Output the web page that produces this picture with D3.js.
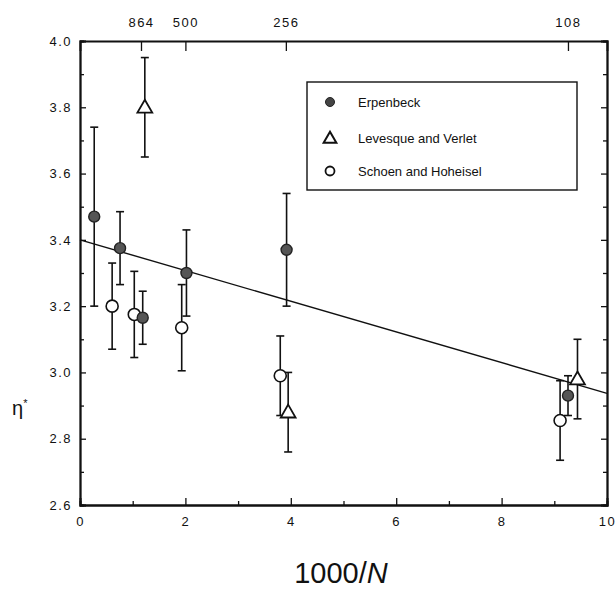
<!DOCTYPE html>
<html>
<head>
<meta charset="utf-8">
<script src="https://cdn.jsdelivr.net/npm/d3@7"></script>
<style>
  body { margin:0; background:#fff; }
  text { font-family: "Liberation Sans", Arial, sans-serif; fill:#111; }
</style>
</head>
<body>
<div id="chart-area"></div>
<script>
// data
var erpX   = [0.27, 0.76, 1.19, 2.02, 3.92, 9.26];
var erpY   = [3.47, 3.375, 3.165, 3.30, 3.37, 2.93];
var erpErr = [0.27, 0.11, 0.08, 0.13, 0.17, 0.06];

var levX   = [1.23, 3.95, 9.44];
var levY   = [3.80, 2.88, 2.98];
var levErr = [0.15, 0.12, 0.12];

var schX   = [0.61, 1.03, 1.93, 3.80, 9.11];
var schY   = [3.20, 3.175, 3.135, 2.99, 2.855];
var schErr = [0.13, 0.13, 0.13, 0.12, 0.12];

var fitX = [0, 10];
var fitY = [3.40, 2.937];

var xTicks = [0, 2, 4, 6, 8, 10];
var yTicks = [2.6, 2.8, 3.0, 3.2, 3.4, 3.6, 3.8, 4.0];
var topN = [864, 500, 256, 108];

var legendNames = ["Erpenbeck", "Levesque and Verlet", "Schoen and Hoheisel"];

var margin = { left:80, right:8, top:41, bottom:86 };
var W = 615, H = 591;
var width = W - margin.left - margin.right,
    height = H - margin.top - margin.bottom;

var svg = d3.select("#chart-area").append("svg")
    .attr("width", W).attr("height", H);
var g = svg.append("g")
    .attr("transform", "translate(" + margin.left + "," + margin.top + ")");

var xScale = d3.scaleLinear().domain([0, 10]).range([0, width]);
var yScale = d3.scaleLinear().domain([2.6, 4.0]).range([height, 0]);

function fmt1(d) { return d.toFixed(1); }

// bottom axis (ticks inward)
var bottomAxis = g.append("g").attr("transform", "translate(0," + height + ")")
  .call(d3.axisBottom(xScale).tickValues(xTicks).tickSize(-7).tickPadding(12).tickFormat(d3.format("d")));
var bottomMinor = g.append("g").attr("transform", "translate(0," + height + ")")
  .call(d3.axisBottom(xScale).tickValues([1,3,5,7,9]).tickSize(-4).tickFormat(""));

// left axis
var leftAxis = g.append("g")
  .call(d3.axisLeft(yScale).tickValues(yTicks).tickSize(-6).tickPadding(8).tickFormat(fmt1));
var leftMinor = g.append("g")
  .call(d3.axisLeft(yScale).tickValues([2.7,2.9,3.1,3.3,3.5,3.7,3.9]).tickSize(-4).tickFormat(""));

// right axis
var rightAxis = g.append("g").attr("transform", "translate(" + width + ",0)")
  .call(d3.axisRight(yScale).tickValues(yTicks).tickSize(-6).tickFormat(""));
var rightMinor = g.append("g").attr("transform", "translate(" + width + ",0)")
  .call(d3.axisRight(yScale).tickValues([2.7,2.9,3.1,3.3,3.5,3.7,3.9]).tickSize(-4).tickFormat(""));

// top axis with N values
var topAxis = g.append("g")
  .call(d3.axisTop(xScale).tickValues(topN.map(function(n){ return 1000 / n; }))
        .tickSize(-10).tickPadding(14).tickFormat(function(d, i){ return topN[i]; }));

[bottomAxis, bottomMinor, leftAxis, leftMinor, rightAxis, rightMinor, topAxis].forEach(function(a){
  a.select(".domain").attr("stroke", "#111").attr("stroke-width", 1.8);
  a.selectAll(".tick line").attr("stroke", "#111").attr("stroke-width", 1.3);
  a.selectAll("text").attr("font-size", "13px").attr("letter-spacing", "1.5px").attr("fill", "#111");
});

// fit line
g.append("line")
  .attr("x1", xScale(fitX[0])).attr("y1", yScale(fitY[0]))
  .attr("x2", xScale(fitX[1])).attr("y2", yScale(fitY[1]))
  .attr("stroke", "#111").attr("stroke-width", 1.4);

// error bars
function errBars(xs, ys, es) {
  var data = xs.map(function(x, i){ return { x:x, y:ys[i], e:es[i] }; });
  var eg = g.append("g").attr("stroke", "#111").attr("stroke-width", 1.6);
  eg.selectAll(".v").data(data).enter().append("line")
    .attr("x1", d => xScale(d.x)).attr("x2", d => xScale(d.x))
    .attr("y1", d => yScale(d.y - d.e)).attr("y2", d => yScale(d.y + d.e));
  eg.selectAll(".t").data(data).enter().append("line")
    .attr("x1", d => xScale(d.x) - 4).attr("x2", d => xScale(d.x) + 4)
    .attr("y1", d => yScale(d.y + d.e)).attr("y2", d => yScale(d.y + d.e));
  eg.selectAll(".b").data(data).enter().append("line")
    .attr("x1", d => xScale(d.x) - 4).attr("x2", d => xScale(d.x) + 4)
    .attr("y1", d => yScale(d.y - d.e)).attr("y2", d => yScale(d.y - d.e));
  return data;
}

var schData = errBars(schX, schY, schErr);
var levData = errBars(levX, levY, levErr);
var erpData = errBars(erpX, erpY, erpErr);

var triPath = d3.symbol().type(d3.symbolTriangle).size(95);

g.selectAll(".sch").data(schData).enter().append("circle")
  .attr("cx", d => xScale(d.x)).attr("cy", d => yScale(d.y)).attr("r", 6)
  .attr("fill", "#fff").attr("stroke", "#111").attr("stroke-width", 1.6);

g.selectAll(".lev").data(levData).enter().append("path")
  .attr("d", triPath)
  .attr("transform", d => "translate(" + xScale(d.x) + "," + (yScale(d.y) + 1) + ")")
  .attr("fill", "#fff").attr("stroke", "#111").attr("stroke-width", 1.8);

g.selectAll(".erp").data(erpData).enter().append("circle")
  .attr("cx", d => xScale(d.x)).attr("cy", d => yScale(d.y)).attr("r", 5.5)
  .attr("fill", "#555").attr("stroke", "#222").attr("stroke-width", 1.4);

// legend
var lg = svg.append("g").attr("transform", "translate(307,82)");
lg.append("rect").attr("width", 270).attr("height", 108)
  .attr("fill", "#fff").attr("stroke", "#111").attr("stroke-width", 1.4);
var rows = [20, 56, 89];
lg.append("circle").attr("cx", 23).attr("cy", rows[0]).attr("r", 4.5)
  .attr("fill", "#444").attr("stroke", "#222");
lg.append("path").attr("d", d3.symbol().type(d3.symbolTriangle).size(70))
  .attr("transform", "translate(23," + (rows[1] + 1) + ")")
  .attr("fill", "#fff").attr("stroke", "#111").attr("stroke-width", 2);
lg.append("circle").attr("cx", 23).attr("cy", rows[2]).attr("r", 4.5)
  .attr("fill", "#fff").attr("stroke", "#111").attr("stroke-width", 1.8);
lg.selectAll(".lt").data(legendNames).enter().append("text")
  .attr("x", 51).attr("y", (d, i) => rows[i] + 5)
  .attr("font-size", "13px")
  .text(d => d);

// axis titles
var xt = svg.append("text")
  .attr("x", 341).attr("y", 583)
  .attr("text-anchor", "middle").attr("font-size", "29px");
xt.append("tspan").text("1000/");
xt.append("tspan").attr("font-style", "italic").text("N");

var yt = svg.append("text").attr("x", 12).attr("y", 415).attr("font-size", "20px");
yt.append("tspan").text("\u03b7");
yt.append("tspan").attr("dy", -8).attr("font-size", "11px").text("*");
</script>
</body>
</html>
